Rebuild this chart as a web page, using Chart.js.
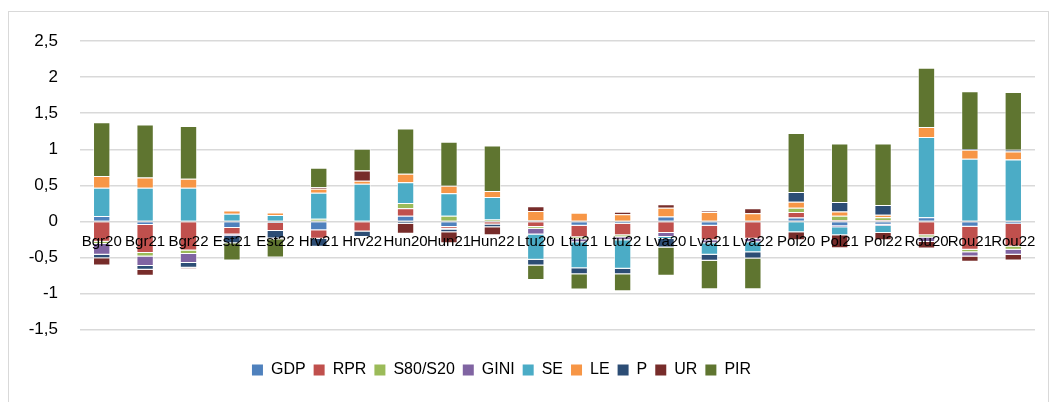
<!DOCTYPE html>
<html>
<head>
<meta charset="utf-8">
<script src="https://cdn.jsdelivr.net/npm/chart.js@4"></script>
<style>
  body { margin: 0; background: #fff; }
  #wrap { position: relative; width: 1051px; height: 402px; overflow: hidden; }
  #frame { position: absolute; left: 8px; top: 11px; width: 1039px; height: 400px; border: 1px solid #d9d9d9; }
  #chart { position: absolute; left: 0; top: 0; }
</style>
</head>
<body>
<div id="wrap">
  <div id="frame"></div>
  <canvas id="chart" width="1051" height="402"></canvas>
</div>
<script>
// Country-year categories
const categories = ['Bgr20', 'Bgr21', 'Bgr22', 'Est21', 'Est22', 'Hrv21', 'Hrv22', 'Hun20', 'Hun21', 'Hun22',
    'Ltu20', 'Ltu21', 'Ltu22', 'Lva20', 'Lva21', 'Lva22', 'Pol20', 'Pol21', 'Pol22', 'Rou20', 'Rou21', 'Rou22'];

// Contribution of each indicator
const gdp  = [0.075, -0.05, 0, -0.09, -0.02, -0.12, 0, 0.08, -0.075, -0.01, 0.015, -0.06, -0.03, 0.07, -0.06, 0, 0.055, -0.065, -0.045, 0.06, -0.074, -0.035];
const rpr  = [-0.28, -0.385, -0.4, -0.09, -0.11, -0.12, -0.14, 0.105, -0.025, -0.03, -0.075, -0.158, -0.16, -0.16, -0.2, -0.24, 0.075, 0.02, 0.02, -0.19, -0.316, -0.31];
const s80  = [-0.03, -0.05, -0.05, 0, 0, 0.037, 0, 0.07, 0.08, 0.028, -0.025, -0.027, -0.028, 0, 0, 0, 0.06, 0.06, 0.04, -0.03, -0.036, -0.045];
const gini = [-0.15, -0.13, -0.125, -0.02, 0, 0, 0, -0.01, -0.01, 0, -0.08, -0.042, -0.042, -0.055, -0.04, -0.047, 0, -0.015, -0.015, -0.065, -0.06, -0.07];
const se   = [0.394, 0.468, 0.468, 0.106, 0.09, 0.36, 0.523, 0.29, 0.31, 0.31, -0.35, -0.361, -0.393, -0.025, -0.16, -0.14, -0.15, -0.11, -0.1, 1.11, 0.87, 0.86];
const le   = [0.16, 0.14, 0.125, 0.047, 0.035, 0.056, 0.042, 0.116, 0.105, 0.083, 0.13, 0.12, 0.1, 0.12, 0.13, 0.115, 0.083, 0.06, 0.035, 0.14, 0.125, 0.11];
const pov  = [-0.05, -0.055, -0.065, -0.1, -0.105, -0.11, -0.075, -0.02, -0.04, -0.04, -0.08, -0.083, -0.077, -0.12, -0.085, -0.085, 0.134, 0.13, 0.135, 0, 0.01, 0.025];
const ur   = [-0.1, -0.08, -0.015, 0, -0.01, 0.023, 0.143, -0.14, -0.15, -0.11, 0.065, 0, 0.035, 0.05, 0.02, 0.07, -0.11, -0.18, -0.1, -0.09, -0.07, -0.08];
const pir  = [0.745, 0.736, 0.73, -0.24, -0.255, 0.268, 0.3, 0.628, 0.61, 0.63, -0.2, -0.21, -0.235, -0.39, -0.395, -0.425, 0.82, 0.81, 0.85, 0.82, 0.8, 0.8];

const yTicks = { min: -1.5, max: 2.5, step: 0.5 };

const series = [
    { label: 'GDP', data: gdp, color: '#4F81BD' },
    { label: 'RPR', data: rpr, color: '#C0504D' },
    { label: 'S80/S20', data: s80, color: '#9BBB59' },
    { label: 'GINI', data: gini, color: '#8064A2' },
    { label: 'SE', data: se, color: '#4BACC6' },
    { label: 'LE', data: le, color: '#F79646' },
    { label: 'P', data: pov, color: '#2C4D75' },
    { label: 'UR', data: ur, color: '#772C2A' },
    { label: 'PIR', data: pir, color: '#5F7530' }
];

Chart.defaults.font.family = "'Liberation Sans', Arial, sans-serif";
Chart.defaults.color = '#000';

// move the legend row a bit to the left
const legendShift = {
    id: 'legendShift',
    afterLayout(chart) {
        chart.legend.left -= 16;
        chart.legend.right -= 16;
    }
};

new Chart(document.getElementById('chart'), {
    type: 'bar',
    data: {
        labels: categories,
        datasets: series.map(s => ({
            label: s.label,
            data: s.data,
            backgroundColor: s.color,
            borderColor: 'rgba(255,255,255,0.6)',
            borderWidth: 1,
            categoryPercentage: 1,
            barPercentage: 0.4
        }))
    },
    options: {
        responsive: false,
        animation: false,
        layout: { padding: { left: 0, right: 16, top: 41, bottom: 14 } },
        scales: {
            x: {
                stacked: true,
                position: { y: 0 },
                grid: { display: false, drawTicks: false },
                border: { display: false },
                ticks: { autoSkip: false, maxRotation: 0, minRotation: 0, padding: 11, font: { size: 15 }, z: 1 }
            },
            y: {
                stacked: true,
                min: yTicks.min,
                max: yTicks.max,
                grid: { color: '#d9d9d9', lineWidth: 1.5, drawTicks: false },
                border: { display: false },
                ticks: {
                    stepSize: yTicks.step,
                    padding: 22,
                    font: { size: 17 },
                    callback: v => String(v).replace('.', ',')
                },
                afterFit: scale => { scale.width = 80; }
            }
        },
        plugins: {
            tooltip: { enabled: false },
            legend: {
                position: 'bottom',
                title: { display: true, text: ' ', font: { size: 1 }, padding: { top: 23, bottom: 0 } },
                labels: {
                    boxWidth: 11,
                    boxHeight: 11,
                    padding: 8,
                    font: { size: 16 },
                    generateLabels: chart => Chart.defaults.plugins.legend.labels.generateLabels(chart)
                        .map(item => Object.assign(item, { lineWidth: 0, strokeStyle: 'transparent' }))
                }
            }
        }
    },
    plugins: [legendShift]
});
</script>
</body>
</html>
